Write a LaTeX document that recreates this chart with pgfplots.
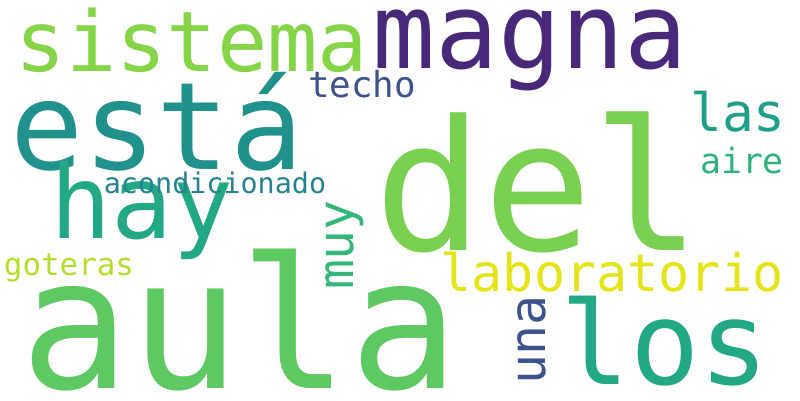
\documentclass[border=0pt]{standalone}
\usepackage{fontspec}
\usepackage{pgfplots}
\pgfplotsset{compat=1.18}
\newfontfamily\wc{DejaVu Sans Mono}
\definecolor{c1}{HTML}{7AD151}
\definecolor{c2}{HTML}{5EC962}
\definecolor{c3}{HTML}{482878}
\definecolor{c4}{HTML}{21918C}
\definecolor{c5}{HTML}{86D549}
\definecolor{c6}{HTML}{22A884}
\definecolor{c7}{HTML}{E5E419}
\definecolor{c8}{HTML}{1F9E89}
\definecolor{c9}{HTML}{2DB27D}
\definecolor{c10}{HTML}{3B528B}
\definecolor{c11}{HTML}{26828E}
\definecolor{c12}{HTML}{B5DE2B}
\definecolor{c13}{HTML}{35B779}
\newcommand{\w}[6]{\node[inner sep=0,anchor=center,text=#5,rotate=#6] at (axis cs:#1,#2) {\wc\fontsize{#4}{#4}\selectfont #3};}
\begin{document}
\begin{tikzpicture}
\begin{axis}[scale only axis,width=800bp,height=400bp,xmin=0,xmax=800,ymin=0,ymax=400,y dir=reverse,hide axis,clip=false]
\addplot[draw=none] coordinates {(0,0) (800,400)};
\w{538}{182}{del}{182}{c1}{0}
\w{240}{320}{aula}{183}{c2}{0}
\w{530}{50}{magna}{105}{c3}{0}
\w{157}{122}{está}{122}{c4}{0}
\w{192}{40}{sistema}{84}{c5}{0}
\w{142}{210}{hay}{102}{c6}{0}
\w{665}{341}{los}{116}{c6}{0}
\w{612}{272}{laboratorio}{52}{c7}{0}
\w{738}{112}{las}{53}{c8}{0}
\w{742}{160}{aire}{35}{c9}{0}
\w{362}{84}{techo}{36}{c10}{0}
\w{215}{183}{acondicionado}{28.5}{c11}{0}
\w{69}{268}{goteras}{31}{c12}{0}
\w{345}{245}{muy}{50}{c13}{90}
\w{532}{340}{una}{50}{c10}{90}
\end{axis}
\end{tikzpicture}
\end{document}
